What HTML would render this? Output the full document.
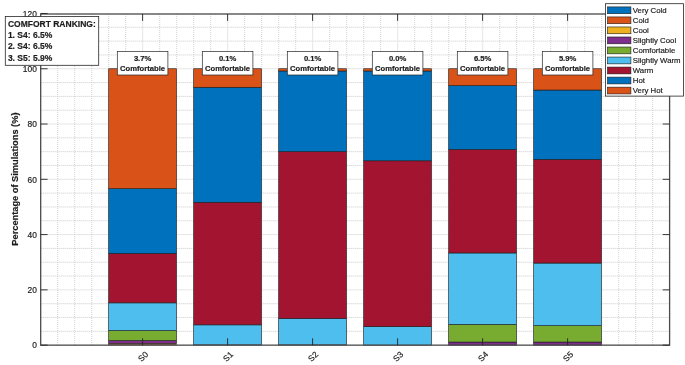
<!DOCTYPE html>
<html lang="en"><head><meta charset="utf-8"><title>Comfort Ranking</title>
<style>html,body{margin:0;padding:0;background:#fff;}body{width:685px;height:365px;overflow:hidden;}svg{display:block;will-change:transform;}text{font-family:'Liberation Sans', Arial, Helvetica, sans-serif;fill:#1c1c1c;stroke:#1c1c1c;stroke-width:0.18px;}</style></head><body>
<svg width="685" height="365" viewBox="0 0 685 365">
<rect x="0" y="0" width="685" height="365" fill="#ffffff"/>
<g fill="none">
<line x1="40.7" x2="669.6" y1="331.33" y2="331.33" stroke="#b4b4b4" stroke-width="0.7" stroke-dasharray="1 1"/>
<line x1="40.7" x2="669.6" y1="317.51" y2="317.51" stroke="#b4b4b4" stroke-width="0.7" stroke-dasharray="1 1"/>
<line x1="40.7" x2="669.6" y1="303.69" y2="303.69" stroke="#b4b4b4" stroke-width="0.7" stroke-dasharray="1 1"/>
<line x1="40.7" x2="669.6" y1="276.05" y2="276.05" stroke="#b4b4b4" stroke-width="0.7" stroke-dasharray="1 1"/>
<line x1="40.7" x2="669.6" y1="262.23" y2="262.23" stroke="#b4b4b4" stroke-width="0.7" stroke-dasharray="1 1"/>
<line x1="40.7" x2="669.6" y1="248.41" y2="248.41" stroke="#b4b4b4" stroke-width="0.7" stroke-dasharray="1 1"/>
<line x1="40.7" x2="669.6" y1="220.77" y2="220.77" stroke="#b4b4b4" stroke-width="0.7" stroke-dasharray="1 1"/>
<line x1="40.7" x2="669.6" y1="206.95" y2="206.95" stroke="#b4b4b4" stroke-width="0.7" stroke-dasharray="1 1"/>
<line x1="40.7" x2="669.6" y1="193.13" y2="193.13" stroke="#b4b4b4" stroke-width="0.7" stroke-dasharray="1 1"/>
<line x1="40.7" x2="669.6" y1="165.49" y2="165.49" stroke="#b4b4b4" stroke-width="0.7" stroke-dasharray="1 1"/>
<line x1="40.7" x2="669.6" y1="151.67" y2="151.67" stroke="#b4b4b4" stroke-width="0.7" stroke-dasharray="1 1"/>
<line x1="40.7" x2="669.6" y1="137.85" y2="137.85" stroke="#b4b4b4" stroke-width="0.7" stroke-dasharray="1 1"/>
<line x1="40.7" x2="669.6" y1="110.21" y2="110.21" stroke="#b4b4b4" stroke-width="0.7" stroke-dasharray="1 1"/>
<line x1="40.7" x2="669.6" y1="96.39" y2="96.39" stroke="#b4b4b4" stroke-width="0.7" stroke-dasharray="1 1"/>
<line x1="40.7" x2="669.6" y1="82.57" y2="82.57" stroke="#b4b4b4" stroke-width="0.7" stroke-dasharray="1 1"/>
<line x1="40.7" x2="669.6" y1="54.93" y2="54.93" stroke="#b4b4b4" stroke-width="0.7" stroke-dasharray="1 1"/>
<line x1="40.7" x2="669.6" y1="41.11" y2="41.11" stroke="#b4b4b4" stroke-width="0.7" stroke-dasharray="1 1"/>
<line x1="40.7" x2="669.6" y1="27.29" y2="27.29" stroke="#b4b4b4" stroke-width="0.7" stroke-dasharray="1 1"/>
<line x1="40.7" x2="669.6" y1="289.87" y2="289.87" stroke="#e6e6e6" stroke-width="1"/>
<line x1="40.7" x2="669.6" y1="234.59" y2="234.59" stroke="#e6e6e6" stroke-width="1"/>
<line x1="40.7" x2="669.6" y1="179.31" y2="179.31" stroke="#e6e6e6" stroke-width="1"/>
<line x1="40.7" x2="669.6" y1="124.03" y2="124.03" stroke="#e6e6e6" stroke-width="1"/>
<line x1="40.7" x2="669.6" y1="68.75" y2="68.75" stroke="#e6e6e6" stroke-width="1"/>
<line y1="14.00" y2="345.15" x1="57.70" x2="57.70" stroke="#c6c6c6" stroke-width="0.8" stroke-dasharray="1 1"/>
<line y1="14.00" y2="345.15" x1="74.70" x2="74.70" stroke="#c6c6c6" stroke-width="0.8" stroke-dasharray="1 1"/>
<line y1="14.00" y2="345.15" x1="91.70" x2="91.70" stroke="#c6c6c6" stroke-width="0.8" stroke-dasharray="1 1"/>
<line y1="14.00" y2="345.15" x1="108.70" x2="108.70" stroke="#c6c6c6" stroke-width="0.8" stroke-dasharray="1 1"/>
<line y1="14.00" y2="345.15" x1="125.70" x2="125.70" stroke="#c6c6c6" stroke-width="0.8" stroke-dasharray="1 1"/>
<line y1="14.00" y2="345.15" x1="142.70" x2="142.70" stroke="#e6e6e6" stroke-width="1"/>
<line y1="14.00" y2="345.15" x1="159.70" x2="159.70" stroke="#c6c6c6" stroke-width="0.8" stroke-dasharray="1 1"/>
<line y1="14.00" y2="345.15" x1="176.70" x2="176.70" stroke="#c6c6c6" stroke-width="0.8" stroke-dasharray="1 1"/>
<line y1="14.00" y2="345.15" x1="193.70" x2="193.70" stroke="#c6c6c6" stroke-width="0.8" stroke-dasharray="1 1"/>
<line y1="14.00" y2="345.15" x1="210.70" x2="210.70" stroke="#c6c6c6" stroke-width="0.8" stroke-dasharray="1 1"/>
<line y1="14.00" y2="345.15" x1="227.70" x2="227.70" stroke="#e6e6e6" stroke-width="1"/>
<line y1="14.00" y2="345.15" x1="244.70" x2="244.70" stroke="#c6c6c6" stroke-width="0.8" stroke-dasharray="1 1"/>
<line y1="14.00" y2="345.15" x1="261.70" x2="261.70" stroke="#c6c6c6" stroke-width="0.8" stroke-dasharray="1 1"/>
<line y1="14.00" y2="345.15" x1="278.70" x2="278.70" stroke="#c6c6c6" stroke-width="0.8" stroke-dasharray="1 1"/>
<line y1="14.00" y2="345.15" x1="295.70" x2="295.70" stroke="#c6c6c6" stroke-width="0.8" stroke-dasharray="1 1"/>
<line y1="14.00" y2="345.15" x1="312.70" x2="312.70" stroke="#e6e6e6" stroke-width="1"/>
<line y1="14.00" y2="345.15" x1="329.70" x2="329.70" stroke="#c6c6c6" stroke-width="0.8" stroke-dasharray="1 1"/>
<line y1="14.00" y2="345.15" x1="346.70" x2="346.70" stroke="#c6c6c6" stroke-width="0.8" stroke-dasharray="1 1"/>
<line y1="14.00" y2="345.15" x1="363.70" x2="363.70" stroke="#c6c6c6" stroke-width="0.8" stroke-dasharray="1 1"/>
<line y1="14.00" y2="345.15" x1="380.70" x2="380.70" stroke="#c6c6c6" stroke-width="0.8" stroke-dasharray="1 1"/>
<line y1="14.00" y2="345.15" x1="397.70" x2="397.70" stroke="#e6e6e6" stroke-width="1"/>
<line y1="14.00" y2="345.15" x1="414.70" x2="414.70" stroke="#c6c6c6" stroke-width="0.8" stroke-dasharray="1 1"/>
<line y1="14.00" y2="345.15" x1="431.70" x2="431.70" stroke="#c6c6c6" stroke-width="0.8" stroke-dasharray="1 1"/>
<line y1="14.00" y2="345.15" x1="448.70" x2="448.70" stroke="#c6c6c6" stroke-width="0.8" stroke-dasharray="1 1"/>
<line y1="14.00" y2="345.15" x1="465.70" x2="465.70" stroke="#c6c6c6" stroke-width="0.8" stroke-dasharray="1 1"/>
<line y1="14.00" y2="345.15" x1="482.70" x2="482.70" stroke="#e6e6e6" stroke-width="1"/>
<line y1="14.00" y2="345.15" x1="499.70" x2="499.70" stroke="#c6c6c6" stroke-width="0.8" stroke-dasharray="1 1"/>
<line y1="14.00" y2="345.15" x1="516.70" x2="516.70" stroke="#c6c6c6" stroke-width="0.8" stroke-dasharray="1 1"/>
<line y1="14.00" y2="345.15" x1="533.70" x2="533.70" stroke="#c6c6c6" stroke-width="0.8" stroke-dasharray="1 1"/>
<line y1="14.00" y2="345.15" x1="550.70" x2="550.70" stroke="#c6c6c6" stroke-width="0.8" stroke-dasharray="1 1"/>
<line y1="14.00" y2="345.15" x1="567.70" x2="567.70" stroke="#e6e6e6" stroke-width="1"/>
<line y1="14.00" y2="345.15" x1="584.70" x2="584.70" stroke="#c6c6c6" stroke-width="0.8" stroke-dasharray="1 1"/>
<line y1="14.00" y2="345.15" x1="601.70" x2="601.70" stroke="#c6c6c6" stroke-width="0.8" stroke-dasharray="1 1"/>
<line y1="14.00" y2="345.15" x1="618.70" x2="618.70" stroke="#c6c6c6" stroke-width="0.8" stroke-dasharray="1 1"/>
<line y1="14.00" y2="345.15" x1="635.70" x2="635.70" stroke="#c6c6c6" stroke-width="0.8" stroke-dasharray="1 1"/>
<line y1="14.00" y2="345.15" x1="652.70" x2="652.70" stroke="#c6c6c6" stroke-width="0.8" stroke-dasharray="1 1"/>
</g>
<g stroke="#1a1a1a" stroke-width="0.6">
<rect x="108.70" y="344.60" width="67.8" height="0.55" fill="#0072BD" stroke-width="0.2"/>
<rect x="108.70" y="343.99" width="67.8" height="0.61" fill="#D95319" stroke-width="0.2"/>
<rect x="108.70" y="343.35" width="67.8" height="0.64" fill="#EDB120" stroke-width="0.2"/>
<rect x="108.70" y="340.59" width="67.8" height="2.76" fill="#7E2F8E"/>
<rect x="108.70" y="330.58" width="67.8" height="10.01" fill="#77AC30"/>
<rect x="108.70" y="302.86" width="67.8" height="27.72" fill="#4DBEEE"/>
<rect x="108.70" y="253.39" width="67.8" height="49.48" fill="#A2142F"/>
<rect x="108.70" y="188.71" width="67.8" height="64.68" fill="#0072BD"/>
<rect x="108.70" y="68.75" width="67.8" height="119.96" fill="#D95319"/>
<rect x="193.70" y="344.87" width="67.8" height="0.28" fill="#77AC30" stroke-width="0.2"/>
<rect x="193.70" y="324.86" width="67.8" height="20.01" fill="#4DBEEE"/>
<rect x="193.70" y="202.25" width="67.8" height="122.61" fill="#A2142F"/>
<rect x="193.70" y="87.27" width="67.8" height="114.98" fill="#0072BD"/>
<rect x="193.70" y="68.75" width="67.8" height="18.52" fill="#D95319"/>
<rect x="278.70" y="344.87" width="67.8" height="0.28" fill="#77AC30" stroke-width="0.2"/>
<rect x="278.70" y="318.34" width="67.8" height="26.53" fill="#4DBEEE"/>
<rect x="278.70" y="151.67" width="67.8" height="166.67" fill="#A2142F"/>
<rect x="278.70" y="70.96" width="67.8" height="80.71" fill="#0072BD"/>
<rect x="278.70" y="68.75" width="67.8" height="2.21" fill="#D95319"/>
<rect x="363.70" y="326.63" width="67.8" height="18.52" fill="#4DBEEE"/>
<rect x="363.70" y="160.79" width="67.8" height="165.84" fill="#A2142F"/>
<rect x="363.70" y="70.96" width="67.8" height="89.83" fill="#0072BD"/>
<rect x="363.70" y="68.75" width="67.8" height="2.21" fill="#D95319"/>
<rect x="448.70" y="342.03" width="67.8" height="3.12" fill="#7E2F8E"/>
<rect x="448.70" y="324.42" width="67.8" height="17.61" fill="#77AC30"/>
<rect x="448.70" y="252.97" width="67.8" height="71.45" fill="#4DBEEE"/>
<rect x="448.70" y="149.46" width="67.8" height="103.51" fill="#A2142F"/>
<rect x="448.70" y="85.61" width="67.8" height="63.85" fill="#0072BD"/>
<rect x="448.70" y="68.75" width="67.8" height="16.86" fill="#D95319"/>
<rect x="533.70" y="342.03" width="67.8" height="3.12" fill="#7E2F8E"/>
<rect x="533.70" y="325.66" width="67.8" height="16.36" fill="#77AC30"/>
<rect x="533.70" y="263.06" width="67.8" height="62.60" fill="#4DBEEE"/>
<rect x="533.70" y="159.41" width="67.8" height="103.65" fill="#A2142F"/>
<rect x="533.70" y="90.03" width="67.8" height="69.38" fill="#0072BD"/>
<rect x="533.70" y="68.75" width="67.8" height="21.28" fill="#D95319"/>
</g>
<g stroke="#4a4a4a" stroke-width="1.3" fill="none">
<rect x="40.7" y="14.00" width="628.90" height="331.15"/>
</g>
<g stroke="#222222" stroke-width="0.9" fill="none">
<line x1="40.7" x2="47.6" y1="345.15" y2="345.15"/>
<line x1="669.6" x2="662.7" y1="345.15" y2="345.15"/>
<line x1="40.7" x2="47.6" y1="289.87" y2="289.87"/>
<line x1="669.6" x2="662.7" y1="289.87" y2="289.87"/>
<line x1="40.7" x2="47.6" y1="234.59" y2="234.59"/>
<line x1="669.6" x2="662.7" y1="234.59" y2="234.59"/>
<line x1="40.7" x2="47.6" y1="179.31" y2="179.31"/>
<line x1="669.6" x2="662.7" y1="179.31" y2="179.31"/>
<line x1="40.7" x2="47.6" y1="124.03" y2="124.03"/>
<line x1="669.6" x2="662.7" y1="124.03" y2="124.03"/>
<line x1="40.7" x2="47.6" y1="68.75" y2="68.75"/>
<line x1="669.6" x2="662.7" y1="68.75" y2="68.75"/>
<line x1="40.7" x2="47.6" y1="13.47" y2="13.47"/>
<line x1="669.6" x2="662.7" y1="13.47" y2="13.47"/>
<line x1="142.60" x2="142.60" y1="345.15" y2="338.25"/>
<line x1="142.60" x2="142.60" y1="14.00" y2="20.90"/>
<line x1="227.60" x2="227.60" y1="345.15" y2="338.25"/>
<line x1="227.60" x2="227.60" y1="14.00" y2="20.90"/>
<line x1="312.60" x2="312.60" y1="345.15" y2="338.25"/>
<line x1="312.60" x2="312.60" y1="14.00" y2="20.90"/>
<line x1="397.60" x2="397.60" y1="345.15" y2="338.25"/>
<line x1="397.60" x2="397.60" y1="14.00" y2="20.90"/>
<line x1="482.60" x2="482.60" y1="345.15" y2="338.25"/>
<line x1="482.60" x2="482.60" y1="14.00" y2="20.90"/>
<line x1="567.60" x2="567.60" y1="345.15" y2="338.25"/>
<line x1="567.60" x2="567.60" y1="14.00" y2="20.90"/>
</g>
<g font-size="8.4" text-anchor="end" style="stroke:none;fill:#3c3c3c">
<text x="36.8" y="348.35">0</text>
<text x="36.8" y="293.07">20</text>
<text x="36.8" y="237.79">40</text>
<text x="36.8" y="182.51">60</text>
<text x="36.8" y="127.23">80</text>
<text x="36.8" y="71.95">100</text>
<text x="36.8" y="16.67">120</text>
</g>
<g font-size="8.4" text-anchor="end" style="stroke:none;fill:#3c3c3c">
<text transform="translate(148.70,354.9) rotate(-45)">S0</text>
<text transform="translate(233.70,354.9) rotate(-45)">S1</text>
<text transform="translate(318.70,354.9) rotate(-45)">S2</text>
<text transform="translate(403.70,354.9) rotate(-45)">S3</text>
<text transform="translate(488.70,354.9) rotate(-45)">S4</text>
<text transform="translate(573.70,354.9) rotate(-45)">S5</text>
</g>
<text transform="translate(18.4,179.1) rotate(-90)" font-size="9.7" font-weight="bold" text-anchor="middle" textLength="133.2" lengthAdjust="spacingAndGlyphs" stroke-width="0.3">Percentage of Simulations (%)</text>
<rect x="117.30" y="51.6" width="50.6" height="23.4" fill="#fff" stroke="#262626" stroke-width="0.7"/>
<text x="142.60" y="61.35" font-size="7.65" font-weight="bold" text-anchor="middle" fill="#000" stroke="#000" stroke-width="0.25">3.7%</text>
<text x="142.60" y="71.1" font-size="7.65" font-weight="bold" text-anchor="middle" fill="#000" stroke="#000" stroke-width="0.25">Comfortable</text>
<rect x="202.30" y="51.6" width="50.6" height="23.4" fill="#fff" stroke="#262626" stroke-width="0.7"/>
<text x="227.60" y="61.35" font-size="7.65" font-weight="bold" text-anchor="middle" fill="#000" stroke="#000" stroke-width="0.25">0.1%</text>
<text x="227.60" y="71.1" font-size="7.65" font-weight="bold" text-anchor="middle" fill="#000" stroke="#000" stroke-width="0.25">Comfortable</text>
<rect x="287.30" y="51.6" width="50.6" height="23.4" fill="#fff" stroke="#262626" stroke-width="0.7"/>
<text x="312.60" y="61.35" font-size="7.65" font-weight="bold" text-anchor="middle" fill="#000" stroke="#000" stroke-width="0.25">0.1%</text>
<text x="312.60" y="71.1" font-size="7.65" font-weight="bold" text-anchor="middle" fill="#000" stroke="#000" stroke-width="0.25">Comfortable</text>
<rect x="372.30" y="51.6" width="50.6" height="23.4" fill="#fff" stroke="#262626" stroke-width="0.7"/>
<text x="397.60" y="61.35" font-size="7.65" font-weight="bold" text-anchor="middle" fill="#000" stroke="#000" stroke-width="0.25">0.0%</text>
<text x="397.60" y="71.1" font-size="7.65" font-weight="bold" text-anchor="middle" fill="#000" stroke="#000" stroke-width="0.25">Comfortable</text>
<rect x="457.30" y="51.6" width="50.6" height="23.4" fill="#fff" stroke="#262626" stroke-width="0.7"/>
<text x="482.60" y="61.35" font-size="7.65" font-weight="bold" text-anchor="middle" fill="#000" stroke="#000" stroke-width="0.25">6.5%</text>
<text x="482.60" y="71.1" font-size="7.65" font-weight="bold" text-anchor="middle" fill="#000" stroke="#000" stroke-width="0.25">Comfortable</text>
<rect x="542.30" y="51.6" width="50.6" height="23.4" fill="#fff" stroke="#262626" stroke-width="0.7"/>
<text x="567.60" y="61.35" font-size="7.65" font-weight="bold" text-anchor="middle" fill="#000" stroke="#000" stroke-width="0.25">5.9%</text>
<text x="567.60" y="71.1" font-size="7.65" font-weight="bold" text-anchor="middle" fill="#000" stroke="#000" stroke-width="0.25">Comfortable</text>
<rect x="5.3" y="16.4" width="93.4" height="48.9" fill="#fff" stroke="#262626" stroke-width="0.8"/>
<text x="7.9" y="26.85" font-size="8.5" font-weight="bold" fill="#000" stroke="#000" stroke-width="0.35">COMFORT RANKING:</text>
<text x="7.9" y="38.15" font-size="8.5" font-weight="bold" fill="#000" stroke="#000" stroke-width="0.35">1. S4: 6.5%</text>
<text x="7.9" y="49.45" font-size="8.5" font-weight="bold" fill="#000" stroke="#000" stroke-width="0.35">2. S4: 6.5%</text>
<text x="7.9" y="60.75" font-size="8.5" font-weight="bold" fill="#000" stroke="#000" stroke-width="0.35">3. S5: 5.9%</text>
<rect x="605.6" y="3.7" width="77.8" height="92.4" fill="#fff" stroke="#262626" stroke-width="0.8"/>
<rect x="607.5" y="6.90" width="23.4" height="6.8" fill="#0072BD" stroke="#1a1a1a" stroke-width="0.6"/>
<text x="632.8" y="13.15" font-size="7.8">Very Cold</text>
<rect x="607.5" y="16.93" width="23.4" height="6.8" fill="#D95319" stroke="#1a1a1a" stroke-width="0.6"/>
<text x="632.8" y="23.18" font-size="7.8">Cold</text>
<rect x="607.5" y="26.96" width="23.4" height="6.8" fill="#EDB120" stroke="#1a1a1a" stroke-width="0.6"/>
<text x="632.8" y="33.21" font-size="7.8">Cool</text>
<rect x="607.5" y="36.99" width="23.4" height="6.8" fill="#7E2F8E" stroke="#1a1a1a" stroke-width="0.6"/>
<text x="632.8" y="43.24" font-size="7.8">Slightly Cool</text>
<rect x="607.5" y="47.02" width="23.4" height="6.8" fill="#77AC30" stroke="#1a1a1a" stroke-width="0.6"/>
<text x="632.8" y="53.27" font-size="7.8">Comfortable</text>
<rect x="607.5" y="57.05" width="23.4" height="6.8" fill="#4DBEEE" stroke="#1a1a1a" stroke-width="0.6"/>
<text x="632.8" y="63.30" font-size="7.8">Slightly Warm</text>
<rect x="607.5" y="67.08" width="23.4" height="6.8" fill="#A2142F" stroke="#1a1a1a" stroke-width="0.6"/>
<text x="632.8" y="73.33" font-size="7.8">Warm</text>
<rect x="607.5" y="77.11" width="23.4" height="6.8" fill="#0072BD" stroke="#1a1a1a" stroke-width="0.6"/>
<text x="632.8" y="83.36" font-size="7.8">Hot</text>
<rect x="607.5" y="87.14" width="23.4" height="6.8" fill="#D95319" stroke="#1a1a1a" stroke-width="0.6"/>
<text x="632.8" y="93.39" font-size="7.8">Very Hot</text>
</svg></body></html>
